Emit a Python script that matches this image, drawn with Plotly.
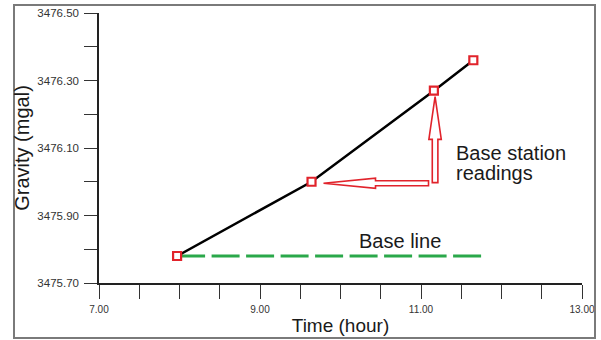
import numpy as np
import plotly.graph_objects as go

# ---- data ----
time_hours = [7.97, 9.64, 11.16, 11.65]
gravity_mgal = [3475.78, 3476.00, 3476.27, 3476.36]
base_line_time = [7.97, 11.76]
base_line_gravity = [3475.78, 3475.78]

x_range = [7.0, 13.0]
y_range = [3475.70, 3476.50]
x_tick_values = [round(v, 2) for v in np.arange(7.0, 13.001, 0.5)]
x_tick_labels = [f"{v:.2f}" if abs((v - 7.0) % 2.0) < 1e-6 else "" for v in x_tick_values]
y_tick_values = [round(v, 2) for v in np.arange(3475.70, 3476.501, 0.1)]
y_tick_labels = [f"{v:.2f}" if i % 2 == 0 else "" for i, v in enumerate(y_tick_values)]

FONT = "Liberation Sans, Arial, sans-serif"
RED = "#e1232b"
GREEN = "#2aa84a"

W, H = 601, 340
ML, MR, MT, MB = 99, 19, 13, 57
PW, PH = W - ML - MR, H - MT - MB

fig = go.Figure()

fig.add_trace(go.Scatter(
    x=base_line_time, y=base_line_gravity, mode="lines",
    line=dict(color=GREEN, width=3, dash="28px,6.5px"),
    hoverinfo="skip", showlegend=False))

fig.add_trace(go.Scatter(
    x=time_hours, y=gravity_mgal, mode="lines",
    line=dict(color="#000000", width=2.5),
    showlegend=False))

fig.add_trace(go.Scatter(
    x=time_hours, y=gravity_mgal, mode="markers",
    marker=dict(symbol="square", size=8, color="white",
                line=dict(color=RED, width=2.2)),
    showlegend=False))


def arrow_path(points):
    # points in screen pixels (dy down) relative to anchor -> plotly pixel (y up)
    return "M " + " L ".join(f"{dx},{-dy}" for dx, dy in points) + " Z"


# horizontal hollow arrow pointing at the 2nd reading
h_arrow = [(12, 1.5), (64, -3.5), (64, -1), (117, -1), (117, 4), (64, 4), (64, 6.5)]
# vertical hollow arrow pointing at the 3rd reading
v_arrow = [(1.2, 6), (7.4, 48.7), (4.0, 48.7), (4.0, 92), (-1.6, 92), (-1.6, 48.7), (-5.0, 48.7)]

for idx, pts in ((1, h_arrow), (2, v_arrow)):
    fig.add_shape(type="path", xref="x", yref="y",
                  xsizemode="pixel", ysizemode="pixel",
                  xanchor=time_hours[idx], yanchor=gravity_mgal[idx],
                  path=arrow_path(pts),
                  line=dict(color=RED, width=1.6), fillcolor="white", layer="above")

# outer frame
fig.add_shape(type="rect", xref="paper", yref="paper",
              x0=(14 - ML) / PW, x1=(595 - ML) / PW,
              y0=(H - MB - 338) / PH, y1=(H - MB - 5) / PH,
              line=dict(color="#7a7a7a", width=2), layer="above")

ann_font = dict(family=FONT, size=20, color="#1a1a1a")
fig.add_annotation(x=11.414, y=3476.085, xref="x", yref="y", text="Base station",
                   showarrow=False, xanchor="left", yanchor="middle", font=ann_font)
fig.add_annotation(x=11.414, y=3476.026, xref="x", yref="y", text="readings",
                   showarrow=False, xanchor="left", yanchor="middle", font=ann_font)
fig.add_annotation(x=10.209, y=3475.823, xref="x", yref="y", text="Base line",
                   showarrow=False, xanchor="left", yanchor="middle", font=ann_font)

fig.update_layout(
    width=W, height=H,
    margin=dict(l=ML, r=MR, t=MT, b=MB, autoexpand=False),
    paper_bgcolor="white", plot_bgcolor="white",
    font=dict(family=FONT, color="#333333"),
    showlegend=False,
)

fig.update_xaxes(
    range=x_range, tickmode="array", tickvals=x_tick_values, ticktext=x_tick_labels,
    ticks="outside", ticklen=14, tickwidth=1.3, tickcolor="#333333",
    showline=True, linecolor="#222222", linewidth=1.5,
    showgrid=False, zeroline=False, ticklabelstandoff=2,
    tickfont=dict(family=FONT, size=10, color="#333333"),
    title=dict(text="Time (hour)", standoff=5,
               font=dict(family=FONT, size=19, color="#1a1a1a")),
    automargin=False,
)
fig.update_yaxes(
    range=y_range, tickmode="array", tickvals=y_tick_values, ticktext=y_tick_labels,
    ticks="outside", ticklen=13, tickwidth=1.3, tickcolor="#333333",
    showline=True, linecolor="#222222", linewidth=1.5,
    showgrid=False, zeroline=False, ticklabelstandoff=3,
    tickfont=dict(family=FONT, size=11.5, color="#333333"),
    title=dict(text="Gravity (mgal)", standoff=2,
               font=dict(family=FONT, size=20, color="#1a1a1a")),
    automargin=False,
)

fig.write_html("out.html",
               config={"displayModeBar": False},
               post_script="document.body.style.margin='0';document.body.style.padding='0';")
